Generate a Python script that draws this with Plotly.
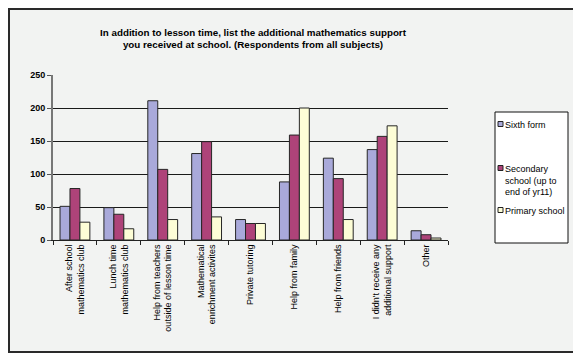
import plotly.graph_objects as go

categories = [
    "After school<br>mathematics club",
    "Lunch time<br>mathematics club",
    "Help from teachers<br>outside of lesson time",
    "Mathematical<br>enrichment activites",
    "Private tutoring",
    "Help from family",
    "Help from friends",
    "I didn't receive any<br>additional support",
    "Other",
]
sixth_form = [51, 49, 211, 131, 31, 88, 124, 137, 14]
secondary_school = [78, 39, 107, 149, 25, 159, 93, 157, 8]
primary_school = [27, 17, 31, 35, 25, 200, 31, 173, 3]

series_names = ["Sixth form", "Secondary school (up to<br>end of yr11)", "Primary school"]
legend_labels = ["Sixth form", "Secondary<br>school (up to<br>end of yr11)", "Primary school"]
series_values = [sixth_form, secondary_school, primary_school]
colors = ["#A9A9DA", "#AE4379", "#FDFDD6"]

y_ticks = [0, 50, 100, 150, 200, 250]
title_text = ("In addition to lesson time, list the additional mathematics support<br>"
              "you received at school. (Respondents from all subjects)")

FONT = "Arial, Liberation Sans, sans-serif"
BG = "#F2F3F2"

fig = go.Figure()
for name, vals, col in zip(series_names, series_values, colors):
    fig.add_trace(go.Bar(
        x=categories, y=vals, name=name,
        marker=dict(color=col, line=dict(color="#262626", width=1)),
        showlegend=False,
    ))

# page has an 8px body margin; work in page pixels and shift by O
O = 8
W, H = 581 - O, 359 - O
L, R, T, B = 53 - O, 448 - O, 75 - O, 240 - O
pw, ph = R - L, B - T

def px(x):
    return (x - O - L) / pw

def py(y):
    return (B - (y - O)) / ph

shapes = [
    # outer frame
    dict(type="rect", xref="paper", yref="paper", layer="below",
         x0=px(9), x1=px(574), y0=py(352), y1=py(9),
         fillcolor=BG, line=dict(color="#2a2a2a", width=2)),
    # legend box
    dict(type="rect", xref="paper", yref="paper", layer="above",
         x0=px(495), x1=px(568), y0=py(243), y1=py(112),
         fillcolor="white", line=dict(color="#111111", width=1)),
]
annotations = []
legend_y = [124, 168, 210]
for lab, col, yy in zip(legend_labels, colors, legend_y):
    shapes.append(dict(type="rect", xref="paper", yref="paper", layer="above",
                       x0=px(498), x1=px(503), y0=py(yy + 2.5), y1=py(yy - 2.5),
                       fillcolor=col, line=dict(color="#222222", width=1)))
    annotations.append(dict(xref="paper", yref="paper", x=px(503), y=py(yy - 6),
                            text=lab, showarrow=False, xanchor="left", yanchor="top",
                            align="left", font=dict(family=FONT, size=9, color="black")))

fig.update_layout(
    width=W, height=H, autosize=False,
    margin=dict(l=L, r=W - R, t=T, b=H - B, pad=0),
    paper_bgcolor="white", plot_bgcolor=BG,
    barmode="group", bargap=0.32, bargroupgap=0,
    title=dict(text=title_text, x=px(253), xref="paper", xanchor="center",
               y=1 - (35.5 - O) / H, yanchor="middle",
               font=dict(family=FONT, size=9.8, color="black", weight="bold")),
    font=dict(family=FONT, size=9, color="black"),
    shapes=shapes, annotations=annotations,
    showlegend=False,
)
fig.update_xaxes(
    tickangle=-90, ticks="outside", tickson="boundaries", ticklen=4,
    tickcolor="#222", showline=True, linecolor="#222", linewidth=1,
    tickfont=dict(family=FONT, size=9, color="black"),
    range=[-0.5, 8.5],
)
fig.update_yaxes(
    range=[0, 250], tickvals=y_ticks, ticks="outside", ticklen=4,
    tickcolor="#555", showline=True, linecolor="#777", linewidth=2,
    gridcolor="#1a1a1a", gridwidth=1, zeroline=False,
    tickfont=dict(family=FONT, size=9, color="black", weight="bold"),
)
fig.write_html("out.html")
